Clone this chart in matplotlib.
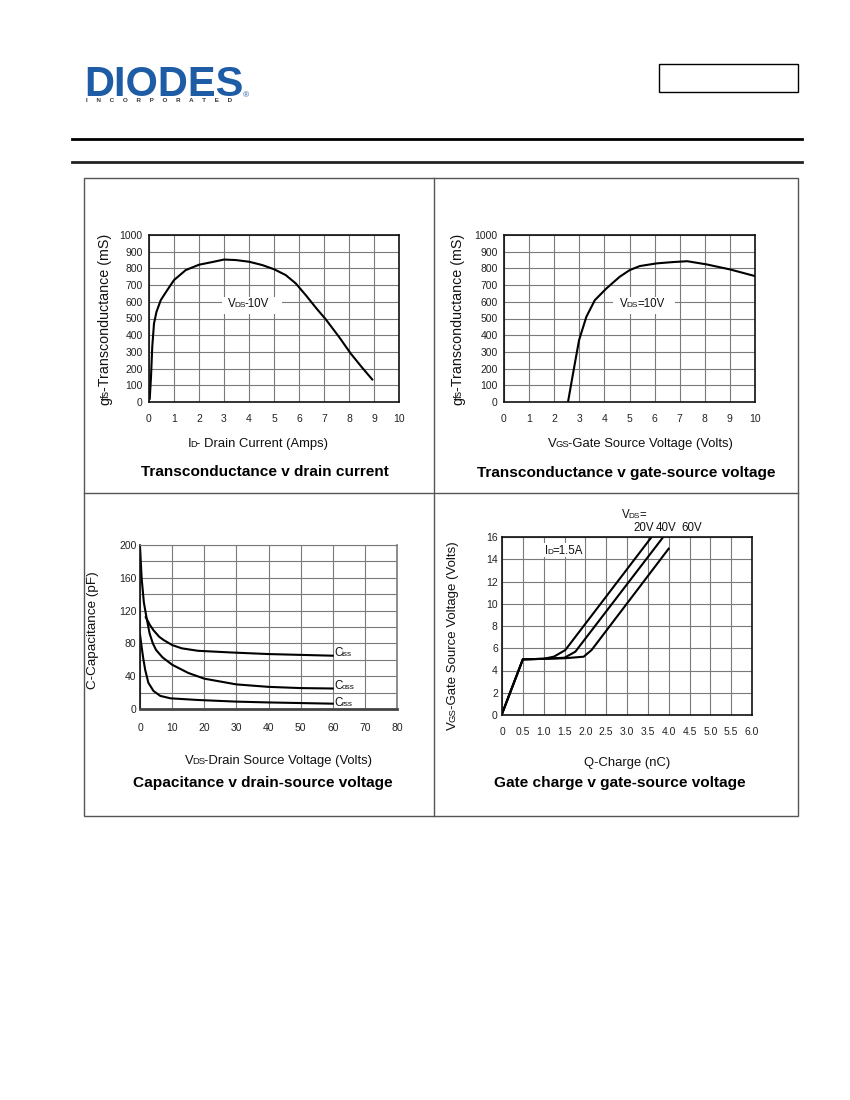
import numpy as np
import matplotlib
matplotlib.use('Agg')
import matplotlib.pyplot as plt
from matplotlib.lines import Line2D
from matplotlib.patches import Rectangle

plt.rcParams['font.family'] = ['Liberation Sans', 'DejaVu Sans']

# --- data ---
# transconductance v drain current
id_amps = [0.03, 0.08, 0.13, 0.2, 0.3, 0.47, 0.73, 1.0, 1.47, 2.0, 2.53, 3.0, 3.47,
           4.0, 4.53, 5.0, 5.47, 5.87, 6.27, 6.7, 7.07, 7.6, 8.07, 8.53, 8.93]
gfs_id = [20, 150, 330, 470, 540, 610, 670, 730, 790, 822, 838, 853, 850,
          840, 820, 795, 760, 710, 640, 560, 495, 390, 290, 205, 135]

# transconductance v gate-source voltage
vgs_volts = [2.55, 2.75, 2.99, 3.28, 3.62, 4.08, 4.61, 5.01, 5.41, 6.08, 6.74, 7.3, 8.07, 9.0, 10.0]
gfs_vgs = [0, 170, 370, 510, 610, 680, 750, 790, 814, 830, 838, 843, 824, 794, 754]

# capacitance v drain-source voltage
vds_iss = [1.8, 3, 4.2, 6, 7.4, 10, 13, 18, 28, 40, 50, 60]
c_iss = [112, 103, 96, 88, 84, 78, 74, 71, 69, 67, 66, 65]
vds_oss = [0, 0.5, 1.2, 2, 3, 4, 5, 7, 10, 15, 20, 30, 40, 50, 60]
c_oss = [198, 160, 130, 112, 92, 80, 72, 63, 54, 44, 37, 30, 27, 25.5, 25]
vds_rss = [0, 0.5, 1.0, 1.6, 2.6, 4.2, 6.3, 9.5, 18, 30, 40, 60]
c_rss = [91, 76, 62, 48, 32, 22, 16, 13, 11, 9, 8, 6.5]

# gate charge v gate-source voltage
q_20 = [0, 0.5, 1.0, 1.25, 1.52, 3.59]
vg_20 = [0.1, 5.0, 5.05, 5.25, 5.84, 16.0]
q_40 = [0, 0.5, 1.0, 1.5, 1.76, 3.87]
vg_40 = [0.1, 5.0, 5.05, 5.15, 5.69, 16.0]
q_60 = [0, 0.5, 1.0, 1.5, 1.96, 2.15, 4.0]
vg_60 = [0.1, 5.0, 5.05, 5.1, 5.24, 5.84, 14.95]
q_ticks = ['0', '0.5', '1.0', '1.5', '2.0', '2.5', '3.0', '3.5', '4.0', '4.5', '5.0', '5.5', '6.0']

W, H = 850, 1100
fig = plt.figure(figsize=(W / 100, H / 100), dpi=100)
renderer = fig.canvas.get_renderer()


def rect(l, t, r, b):
    return [l / W, 1 - b / H, (r - l) / W, (b - t) / H]


def fig_line(x0, y0, x1, y1, **kw):
    fig.add_artist(Line2D([x0 / W, x1 / W], [1 - y0 / H, 1 - y1 / H],
                          transform=fig.transFigure, **kw))


def rich(x, y, parts, size, rot=0, ha='center', color='#111'):
    # parts: list of (text, small); x, y in pixels from top-left, y is baseline
    objs, widths = [], []
    for s, small in parts:
        t = fig.text(0, 0, s, fontsize=size * 0.72 if small else size,
                     ha='left', va='baseline', color=color)
        widths.append(t.get_window_extent(renderer).width - 1.0)
        objs.append(t)
    total = sum(widths)
    off = -total / 2 if ha == 'center' else 0
    for t, w in zip(objs, widths):
        if rot == 0:
            t.set_position(((x + off) / W, 1 - y / H))
        else:
            t.set_rotation(90)
            t.set_rotation_mode('anchor')
            t.set_position((x / W, 1 - (y - off) / H))
        off += w


def style(ax, xpad, ypad):
    ax.set_axisbelow(True)
    ax.grid(True, color='#7a7a7a', lw=0.8)
    ax.tick_params(length=0, labelsize=7.5, colors='#222')
    ax.tick_params(axis='x', pad=xpad)
    ax.tick_params(axis='y', pad=ypad)
    for s in ax.spines.values():
        s.set_color('#111')
        s.set_linewidth(1.2)


# --- page header ---
fig.text(84 / W, 1 - 96 / H, 'DIODES', fontsize=30, fontweight='bold',
         color='#1f5ca6', ha='left', va='baseline')
fig.text(86 / W, 1 - 102 / H, '     '.join('INCORPORATED'), fontsize=4.5,
         fontweight='bold', color='#333', ha='left', va='baseline')
fig.text(246 / W, 1 - 97 / H, '\u00ae', fontsize=6, color='#1f5ca6', ha='center', va='baseline')
fig.add_artist(Rectangle((659 / W, 1 - 92 / H), 139 / W, 28 / H, transform=fig.transFigure,
                         fill=False, ec='black', lw=1))
fig_line(72, 139, 802, 139, color='black', lw=2)
fig_line(72, 162, 802, 162, color='#222', lw=2)

# panel frame
fig.add_artist(Rectangle((84 / W, 1 - 816 / H), 714 / W, 638 / H, transform=fig.transFigure,
                         fill=False, ec='#555', lw=1))
fig_line(434, 178, 434, 816, color='#555', lw=1)
fig_line(84, 493, 798, 493, color='#555', lw=1)

# --- panel 1 ---
ax1 = fig.add_axes(rect(149, 235, 399, 402))
ax1.plot(id_amps, gfs_id, color='black', lw=1.5)
ax1.set_xlim(0, 10)
ax1.set_ylim(0, 1000)
ax1.set_xticks(range(0, 11))
ax1.set_yticks(range(0, 1001, 100))
style(ax1, 9, 4.5)
ax1.add_patch(Rectangle((2.92, 527), 2.4, 102, fc='white', ec='none', zorder=2))

# --- panel 2 ---
ax2 = fig.add_axes(rect(504, 235, 755, 402))
ax2.plot(vgs_volts, gfs_vgs, color='black', lw=1.5)
ax2.set_xlim(0, 10)
ax2.set_ylim(0, 1000)
ax2.set_xticks(range(0, 11))
ax2.set_yticks(range(0, 1001, 100))
style(ax2, 9, 4.5)
ax2.add_patch(Rectangle((4.34, 527), 2.47, 102, fc='white', ec='none', zorder=2))

# --- panel 3 ---
ax3 = fig.add_axes(rect(140, 545, 397, 709))
ax3.plot(vds_iss, c_iss, color='black', lw=1.5)
ax3.plot(vds_oss, c_oss, color='black', lw=1.5)
ax3.plot(vds_rss, c_rss, color='black', lw=1.5)
ax3.set_xlim(0, 80)
ax3.set_ylim(0, 200)
ax3.set_xticks(range(0, 81, 10))
ax3.set_yticks(range(0, 201, 20))
ax3.set_yticklabels([str(v) if v % 40 == 0 else '' for v in range(0, 201, 20)])
style(ax3, 10, 2.5)
ax3.spines['top'].set_color('#7a7a7a')
ax3.spines['top'].set_linewidth(0.8)
ax3.spines['right'].set_color('#7a7a7a')
ax3.spines['bottom'].set_color('#444')
ax3.spines['bottom'].set_linewidth(2)

# --- panel 4 ---
ax4 = fig.add_axes(rect(502, 537, 752, 715))
ax4.plot(q_20, vg_20, color='black', lw=1.5)
ax4.plot(q_40, vg_40, color='black', lw=1.5)
ax4.plot(q_60, vg_60, color='black', lw=1.5)
ax4.set_xlim(0, 6)
ax4.set_ylim(0, 16)
ax4.set_xticks(np.arange(0, 6.01, 0.5))
ax4.set_xticklabels(q_ticks)
ax4.set_yticks(range(0, 17, 2))
style(ax4, 8.5, 3)
ax4.add_patch(Rectangle((0.93, 14.2), 1.06, 1.26, fc='white', ec='none', zorder=2))

# --- rich text labels (pixel positions) ---
rich(228, 307, [('V', False), ('DS', True), ('-10V', False)], 8.3, ha='left')
rich(620, 307, [('V', False), ('DS', True), ('=10V', False)], 8.3, ha='left')
rich(545, 554, [('I', False), ('D', True), ('=1.5A', False)], 8.3, ha='left')
rich(622, 518, [('V', False), ('DS', True), ('=', False)], 8.3, ha='left')
fig.text(633 / W, 1 - 531 / H, '20V', fontsize=8.3, color='#111', va='baseline')
fig.text(656 / W, 1 - 531 / H, '40V', fontsize=8.3, color='#111', va='baseline')
fig.text(681 / W, 1 - 531 / H, '60V', fontsize=8.3, color='#111', va='baseline')
rich(334, 656, [('C', False), ('iss', True)], 8.3, ha='left')
rich(334, 689, [('C', False), ('oss', True)], 8.3, ha='left')
rich(334, 706, [('C', False), ('rss', True)], 8.3, ha='left')

rich(257, 447, [('I', False), ('D', True), ('- Drain Current (Amps)', False)], 9.4)
rich(640, 447, [('V', False), ('GS', True), ('-Gate Source Voltage (Volts)', False)], 9.4)
rich(278, 764, [('V', False), ('DS', True), ('-Drain Source Voltage (Volts)', False)], 9.4)
rich(627, 766, [('Q-Charge (nC)', False)], 9.4)

rich(109, 320, [('g', False), ('fs', True), ('-Transconductance (mS)', False)], 10.3, rot=90)
rich(462, 320, [('g', False), ('fs', True), ('-Transconductance (mS)', False)], 10.3, rot=90)
rich(96, 631, [('C-Capacitance (pF)', False)], 9.7, rot=90)
rich(456, 636, [('V', False), ('GS', True), ('-Gate Source Voltage (Volts)', False)], 9.5, rot=90)

# titles
fig.text(265 / W, 1 - 472 / H, 'Transconductance v drain current', fontsize=11.1,
         fontweight='bold', ha='center', va='center')
fig.text(626 / W, 1 - 473 / H, 'Transconductance v gate-source voltage', fontsize=11.1,
         fontweight='bold', ha='center', va='center')
fig.text(263 / W, 1 - 783 / H, 'Capacitance v drain-source voltage', fontsize=11.1,
         fontweight='bold', ha='center', va='center')
fig.text(620 / W, 1 - 783 / H, 'Gate charge v gate-source voltage', fontsize=11.1,
         fontweight='bold', ha='center', va='center')

fig.savefig('out.png', dpi=100)
